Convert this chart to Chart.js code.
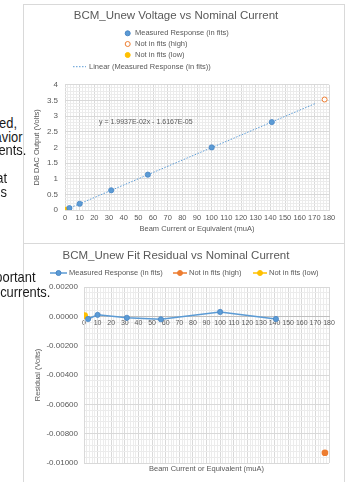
<!DOCTYPE html>
<html>
<head>
<meta charset="utf-8">
<script src="https://cdn.jsdelivr.net/npm/chart.js@4"></script>
<style>
  html, body { margin: 0; padding: 0; background: #fff; }
  body { width: 354px; height: 482px; position: relative; overflow: hidden; font-family: 'Liberation Sans', Arial, sans-serif; }
  .frame { position: absolute; left: 23px; width: 322px; background: #fff; border: 1px solid #d9d9d9; box-sizing: border-box; }
  .box { position: absolute; left: 23px; width: 321px; height: 239px; }
  .slide { position: absolute; font-size: 15px; line-height: 15px; color: #1a1a1a; white-space: nowrap; text-align: right;
           transform: scaleX(0.86); transform-origin: right center; z-index: 3; }
</style>
</head>
<body>
<div class="frame" style="top:4px;height:240px"></div>
<div class="frame" style="top:243px;height:245px"></div>
<div class="box" style="top:4px"><canvas id="ch-volt"></canvas></div>
<div class="box" style="top:243px"><canvas id="ch-res"></canvas></div>

<div class="slide" style="right:337px;top:115px">tested,</div>
<div class="slide" style="right:331px;top:129px">behavior</div>
<div class="slide" style="right:328px;top:142px">currents.</div>
<div class="slide" style="right:347px;top:170px">that</div>
<div class="slide" style="right:347px;top:184px">is</div>
<div class="slide" style="right:318px;top:269px">important</div>
<div class="slide" style="right:304px;top:284px">currents.</div>

<script>
'use strict';

// measured points (x = beam current, muA)
const measX = [3, 10, 31.5, 56.5, 100, 141];
const measV = [0.06, 0.2, 0.63, 1.13, 2.0, 2.81];
const measRes = [-0.00018, 0.0001, -0.0001, -0.0002, 0.0003, -0.00018];
// not in fits
const highX = [177];
const highV = [3.53];
const highRes = [-0.0093];
const lowX = [0.5];
const lowV = [0.01];
const lowRes = [0.00005];
// excel trendline ends
const trendX = [0, 171];
const trendV = [0, 3.41];

// tick labels
const xTicks = [0,10,20,30,40,50,60,70,80,90,100,110,120,130,140,150,160,170,180];
const voltTicks = [0,0.5,1,1.5,2,2.5,3,3.5,4];
const resTicks = [0.002,0,-0.002,-0.004,-0.006,-0.008,-0.01];
const eqText = 'y = 1.9937E-02x - 1.6167E-05';

const BLUE = '#5b9bd5', ORANGE = '#ed7d31', YELLOW = '#ffc000', TXT = '#595959';
const MAJOR = '#d9d9d9', MINOR = '#ececec';

Chart.defaults.color = TXT;
Chart.defaults.font.family = "'Liberation Sans', Arial, sans-serif";
Chart.defaults.font.size = 8;

const pts = (xs, ys) => xs.map((x, i) => ({x, y: ys[i]}));
const isMajor = (v, list) => list.some(t => Math.abs(t - v) < 1e-9);

/* legend drawn excel-style (rows / line+marker) */
const excelLegend = {
  id: 'excelLegend',
  afterDraw(chart, args, o) {
    const ctx = chart.ctx;
    ctx.save();
    ctx.font = o.font;
    ctx.textBaseline = 'middle';
    o.items.forEach(it => {
      const ds = chart.data.datasets[it.ds];
      if (it.line) {
        ctx.beginPath();
        ctx.setLineDash(it.dash || []);
        ctx.strokeStyle = ds.borderColor;
        ctx.lineWidth = it.lw || 1.5;
        ctx.moveTo(it.line[0], it.y); ctx.lineTo(it.line[1], it.y);
        ctx.stroke();
        ctx.setLineDash([]);
      }
      if (it.mx != null) {
        ctx.beginPath();
        ctx.arc(it.mx, it.y, 2.5, 0, Math.PI * 2);
        ctx.fillStyle = ds.pointBackgroundColor || ds.backgroundColor;
        ctx.fill();
        ctx.strokeStyle = ds.pointBorderColor || ds.borderColor;
        ctx.lineWidth = 1;
        ctx.stroke();
      }
      ctx.fillStyle = TXT;
      ctx.fillText(ds.label, it.tx, it.y);
    });
    if (o.note) {
      ctx.font = o.note.font;
      ctx.fillText(o.note.text, o.note.x, o.note.y);
    }
    ctx.restore();
  }
};

const xScale = (extra) => Object.assign({
  type: 'linear', min: 0, max: 180,
  grid: {color: c => isMajor(c.tick.value, xTicks) ? MAJOR : MINOR, drawTicks: false},
  border: {color: MAJOR},
  ticks: {stepSize: 2, autoSkip: false, maxRotation: 0, maxTicksLimit: 1000, padding: 3, font: {size: 7.5},
          callback: v => isMajor(v, xTicks) ? String(Math.round(v)) : ''},
  title: {display: true, text: 'Beam Current or Equivalent (muA)', font: {size: 7.5}, padding: {top: 0, bottom: 9.5}}
}, extra);

// Voltage vs current
new Chart(document.getElementById('ch-volt'), {
  type: 'scatter',
  data: {datasets: [
    {label: 'Measured Response (in fits)', data: pts(measX, measV), backgroundColor: BLUE, borderColor: '#4a86c5',
     pointRadius: 2.6, borderWidth: 0.8},
    {label: 'Not in fits (high)', data: pts(highX, highV), backgroundColor: '#fff', borderColor: ORANGE,
     pointRadius: 2.5, borderWidth: 1},
    {label: 'Not in fits (low)', data: pts(lowX, lowV), backgroundColor: YELLOW, borderColor: YELLOW,
     pointRadius: 2.6, borderWidth: 0.8},
    {label: 'Linear (Measured Response (in fits))', type: 'line', data: pts(trendX, trendV), borderColor: BLUE,
     borderWidth: 1, borderDash: [1.5, 1.5], pointRadius: 0, fill: false}
  ]},
  options: {
    responsive: true, maintainAspectRatio: false, animation: false,
    layout: {padding: {left: 0, right: 15, top: 0, bottom: 0}},
    plugins: {
      legend: {display: false}, tooltip: {enabled: false},
      title: {display: true, text: 'BCM_Unew Voltage vs Nominal Current', color: TXT,
              font: {size: 11.5, weight: 'normal'}, padding: {top: 5, bottom: 62}},
      excelLegend: {
        font: "7.5px 'Liberation Sans', Arial, sans-serif",
        items: [
          {ds: 0, mx: 104.7, tx: 112, y: 29.3},
          {ds: 1, mx: 104.7, tx: 112, y: 40},
          {ds: 2, mx: 104.7, tx: 112, y: 51},
          {ds: 3, line: [50, 63], dash: [1.5, 1.5], lw: 1, tx: 66, y: 62.7}
        ],
        note: {text: eqText, x: 76, y: 118, font: "7px 'Liberation Sans', Arial, sans-serif"}
      }
    },
    scales: {
      x: xScale({afterFit: s => { s.height = 33; }}),
      y: {
        type: 'linear', min: 0, max: 4,
        afterFit: s => { s.width = 42; },
        grid: {color: c => isMajor(c.tick.value, voltTicks) ? MAJOR : MINOR, drawTicks: false},
        border: {display: false},
        ticks: {stepSize: 0.1, autoSkip: false, maxTicksLimit: 1000, padding: 7,
                callback: v => isMajor(v, voltTicks) ? String(+v.toFixed(1)) : ''},
        title: {display: true, text: 'DB DAC Output (Volts)', font: {size: 7.5}, padding: {top: 9.5, bottom: 0}}
      }
    }
  },
  plugins: [excelLegend]
});

// Fit residual vs current
new Chart(document.getElementById('ch-res'), {
  type: 'scatter',
  data: {datasets: [
    {label: 'Measured Response (in fits)', data: pts(measX, measRes), showLine: true, borderColor: BLUE, borderWidth: 1.5,
     pointBackgroundColor: BLUE, pointBorderColor: '#4a86c5', pointRadius: 2.6, pointBorderWidth: 0.8, backgroundColor: BLUE},
    {label: 'Not in fits (high)', data: pts(highX, highRes), showLine: true, borderColor: ORANGE, borderWidth: 1.5,
     pointBackgroundColor: ORANGE, pointBorderColor: ORANGE, pointRadius: 2.6, backgroundColor: ORANGE},
    {label: 'Not in fits (low)', data: pts(lowX, lowRes), showLine: true, borderColor: YELLOW, borderWidth: 1.5,
     pointBackgroundColor: YELLOW, pointBorderColor: YELLOW, pointRadius: 2.6, backgroundColor: YELLOW}
  ]},
  options: {
    responsive: true, maintainAspectRatio: false, animation: false,
    layout: {padding: {left: 0, right: 15, top: 0, bottom: 0}},
    plugins: {
      legend: {display: false}, tooltip: {enabled: false},
      title: {display: true, text: 'BCM_Unew Fit Residual vs Nominal Current', color: TXT,
              font: {size: 11.5, weight: 'normal'}, padding: {top: 5.6, bottom: 24.6}},
      excelLegend: {
        font: "7.5px 'Liberation Sans', Arial, sans-serif",
        items: [
          {ds: 0, line: [27, 44], mx: 35.5, tx: 46, y: 30},
          {ds: 1, line: [150, 164], mx: 157, tx: 166, y: 30},
          {ds: 2, line: [230, 244], mx: 237, tx: 246, y: 30}
        ]
      }
    },
    scales: {
      x: xScale({
        afterFit: s => { s.height = 19; },
        border: {display: false},
        ticks: {stepSize: 2, autoSkip: false, maxTicksLimit: 1000, display: false},
        title: {display: true, text: 'Beam Current or Equivalent (muA)', font: {size: 7.5}, padding: {top: 0, bottom: 8.5}}
      }),
      x2: {
        type: 'linear', axis: 'x', position: {y: 0}, min: 0, max: 180,
        grid: {display: false, drawTicks: false},
        border: {color: '#bfbfbf'},
        ticks: {stepSize: 10, autoSkip: false, maxRotation: 0, padding: 3, font: {size: 7},
                callback: v => String(Math.round(v))}
      },
      y: {
        type: 'linear', min: -0.01, max: 0.002,
        afterFit: s => { s.width = 61; },
        grid: {color: c => isMajor(c.tick.value, resTicks) ? MAJOR : MINOR, drawTicks: false},
        border: {color: MAJOR},
        ticks: {stepSize: 0.0004, autoSkip: false, maxTicksLimit: 1000, padding: 6,
                callback: v => isMajor(v, resTicks) ? (Math.abs(v) < 1e-9 ? 0 : v).toFixed(5) : ''},
        title: {display: true, text: 'Residual (Volts)', font: {size: 7.5}, padding: {top: 10.5, bottom: 0}}
      }
    }
  },
  plugins: [excelLegend]
});
</script>
</body>
</html>
